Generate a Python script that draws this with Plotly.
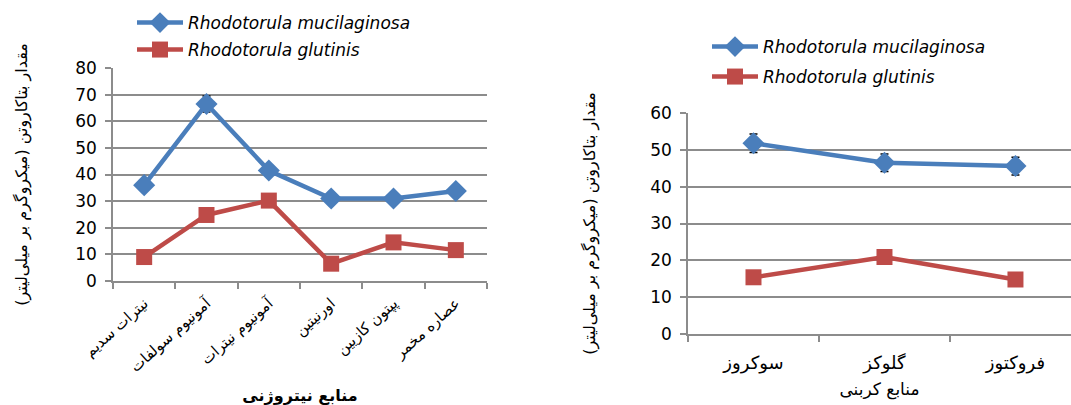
import plotly.graph_objects as go

# ---- Nitrogen sources (left panel) ----
nitrogen_sources = ["نیترات سدیم", "آمونیوم سولفات", "آمونیوم نیترات",
                    "اورنیتین", "پپتون کازیین", "عصاره مخمر"]
nitro_mucilaginosa = [36, 66.5, 41.5, 31, 31, 33.8]
nitro_mucilaginosa_err = [1.5, 3, 1.5, 1, 1, 1]
nitro_glutinis = [9, 24.8, 30.2, 6.5, 14.5, 11.6]

# ---- Carbon sources (right panel) ----
carbon_sources = ["سوکروز", "گلوکز", "فروکتوز"]
carbon_mucilaginosa = [51.8, 46.5, 45.6]
carbon_mucilaginosa_err = [2.5, 2.4, 2.4]
carbon_glutinis = [15.4, 20.9, 14.8]

series_names = ["<i>Rhodotorula mucilaginosa</i>", "<i>Rhodotorula glutinis</i>"]
y_title = "مقدار بتاکاروتن (میکروگرم بر میلی‌لیتر)"

BLUE = "#4A7EBB"
RED = "#BE4B48"
GRID = "#8C8C8C"
NUM_FONT = "DejaVu Sans"
FA_FONT = "DejaVu Sans"

fig = go.Figure()

blue_marker = dict(symbol="diamond", size=17, color=BLUE)
red_marker = dict(symbol="square", size=16, color=RED)
err_style = dict(type="data", color="black", thickness=1.5, width=4)

fig.add_trace(go.Scatter(
    x=nitrogen_sources, y=nitro_mucilaginosa, name=series_names[0],
    mode="lines+markers", line=dict(color=BLUE, width=4.5), marker=blue_marker,
    error_y=dict(array=nitro_mucilaginosa_err, **err_style),
    xaxis="x", yaxis="y", legend="legend"))
fig.add_trace(go.Scatter(
    x=nitrogen_sources, y=nitro_glutinis, name=series_names[1],
    mode="lines+markers", line=dict(color=RED, width=4.5), marker=red_marker,
    xaxis="x", yaxis="y", legend="legend2"))
fig.add_trace(go.Scatter(
    x=carbon_sources, y=carbon_mucilaginosa, name=series_names[0],
    mode="lines+markers", line=dict(color=BLUE, width=4.5), marker=blue_marker,
    error_y=dict(array=carbon_mucilaginosa_err, **err_style),
    xaxis="x2", yaxis="y2", legend="legend3"))
fig.add_trace(go.Scatter(
    x=carbon_sources, y=carbon_glutinis, name=series_names[1],
    mode="lines+markers", line=dict(color=RED, width=4.5), marker=red_marker,
    xaxis="x2", yaxis="y2", legend="legend4"))

axis_common = dict(showline=True, linecolor=GRID, linewidth=1.5,
                   ticks="outside", tickcolor=GRID, ticklen=6, tickwidth=1.5,
                   automargin=False)

legend_common = dict(font=dict(family="DejaVu Sans", size=17, color="black"),
                     bgcolor="rgba(0,0,0,0)", itemwidth=46,
                     xanchor="left", yanchor="middle")

fig.update_layout(
    width=1071, height=405,
    margin=dict(l=0, r=0, t=0, b=0),
    paper_bgcolor="white", plot_bgcolor="white",
    showlegend=True,
    xaxis=dict(domain=[113 / 1071, 487 / 1071], type="category",
               range=[-0.5, 5.5], tickson="boundaries", showgrid=False,
               tickangle=-42, ticklabelstandoff=6,
               tickfont=dict(family=FA_FONT, size=15, color="black"),
               title=dict(text="<b>منابع نیتروژنی</b>", standoff=24,
                          font=dict(family=FA_FONT, size=16, color="black")),
               anchor="y", **axis_common),
    yaxis=dict(domain=[1 - 281 / 405, 1 - 68 / 405], range=[0, 80], dtick=10,
               showgrid=True, gridcolor=GRID, gridwidth=1.5,
               ticklabelstandoff=5,
               tickfont=dict(family=NUM_FONT, size=17, color="black"),
               title=dict(text=y_title, standoff=44,
                          font=dict(family=FA_FONT, size=16, color="black")),
               anchor="x", **axis_common),
    xaxis2=dict(domain=[688 / 1071, 1.0], type="category",
                range=[-0.5, 2.424], tickson="boundaries", showgrid=False,
                tickangle=0, ticklabelstandoff=12,
                tickfont=dict(family=FA_FONT, size=18, color="black"),
                title=dict(text="منابع کربنی", standoff=10,
                           font=dict(family=FA_FONT, size=17, color="black")),
                anchor="y2", **axis_common),
    yaxis2=dict(domain=[1 - 334 / 405, 1 - 113 / 405], range=[0, 60], dtick=10,
                showgrid=True, gridcolor=GRID, gridwidth=1.5,
                ticklabelstandoff=5,
                tickfont=dict(family=NUM_FONT, size=17, color="black"),
                title=dict(text=y_title, standoff=51,
                           font=dict(family=FA_FONT, size=16, color="black")),
                anchor="x2", **axis_common),
    legend=dict(x=132 / 1071, y=1 - 23 / 405, **legend_common),
    legend2=dict(x=132 / 1071, y=1 - 50 / 405, **legend_common),
    legend3=dict(x=707 / 1071, y=1 - 47 / 405, **legend_common),
    legend4=dict(x=707 / 1071, y=1 - 77 / 405, **legend_common),
)

fig.write_html("out.html")
